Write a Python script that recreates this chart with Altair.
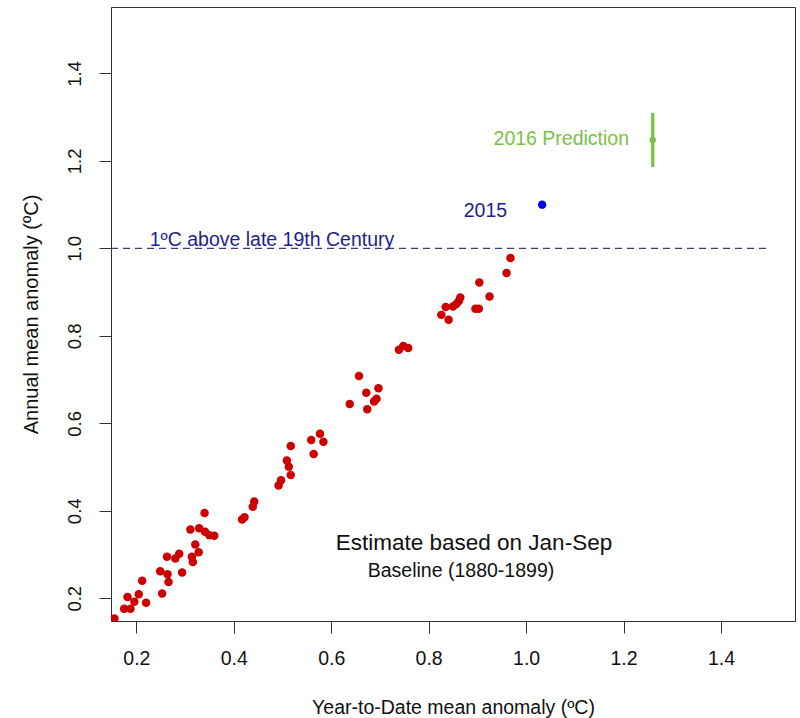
import altair as alt
import pandas as pd

# Year-to-date (Jan-Sep) mean anomaly vs annual mean anomaly, one point per year (degC)
ytd = [0.155, 0.175, 0.188, 0.182, 0.196, 0.205, 0.220, 0.212, 0.253, 0.249,
       0.264, 0.266, 0.263, 0.280, 0.288, 0.294, 0.314, 0.316, 0.321, 0.328,
       0.311, 0.329, 0.340, 0.341, 0.350, 0.360, 0.417, 0.422, 0.439, 0.442,
       0.492, 0.497, 0.509, 0.513, 0.517, 0.517, 0.564, 0.559, 0.577, 0.584,
       0.638, 0.657, 0.672, 0.674, 0.688, 0.693, 0.697, 0.739, 0.748, 0.758,
       0.826, 0.835, 0.841, 0.850, 0.857, 0.862, 0.865, 0.896, 0.903, 0.904,
       0.925, 0.960, 0.968]
annual = [0.154, 0.176, 0.176, 0.203, 0.192, 0.209, 0.190, 0.240, 0.211, 0.262,
          0.255, 0.237, 0.295, 0.291, 0.302, 0.259, 0.295, 0.283, 0.323, 0.305,
          0.357, 0.360, 0.395, 0.352, 0.344, 0.343, 0.380, 0.385, 0.409, 0.421,
          0.458, 0.470, 0.515, 0.501, 0.482, 0.548, 0.530, 0.562, 0.576, 0.558,
          0.644, 0.708, 0.670, 0.632, 0.650, 0.656, 0.680, 0.768, 0.777, 0.772,
          0.848, 0.866, 0.837, 0.867, 0.873, 0.880, 0.888, 0.862, 0.862, 0.922,
          0.890, 0.944, 0.978]

# 2015 observed point
ytd_2015 = [1.033]
annual_2015 = [1.100]

# 2016 prediction with its uncertainty range
ytd_2016 = [1.260]
pred_2016 = [1.248]
pred_lo = [1.186]
pred_hi = [1.310]

threshold = 1.0
threshold_end = 1.5
tick_values = [0.2, 0.4, 0.6, 0.8, 1.0, 1.2, 1.4]

FONT = "Liberation Sans"
RED = "#cd0000"
BLUE = "#0000ee"
NAVY = "#1e1e8e"
GREEN = "#7ac143"

dom = [0.148, 1.552]
xs = alt.Scale(domain=dom, nice=False, zero=False)
ys = alt.Scale(domain=dom, nice=False, zero=False)

pts = pd.DataFrame({"ytd": ytd, "annual": annual})
obs15 = pd.DataFrame({"ytd": ytd_2015, "annual": annual_2015})
pred16 = pd.DataFrame({"ytd": ytd_2016, "annual": pred_2016, "lo": pred_lo, "hi": pred_hi})
thr = pd.DataFrame({"ytd": [dom[0]], "x1": [threshold_end], "annual": [threshold]})

x_axis = alt.Axis(
    values=tick_values, format=".1f", grid=False,
    tickSize=12, tickColor="#333", domainColor="#333",
    labelFont=FONT, labelFontSize=19.5, labelColor="#111",
    labelPadding=16, labelBaseline="top",
    title="Year-to-Date mean anomaly (ºC)",
    titleFont=FONT, titleFontSize=19.5, titleFontWeight="normal", titleColor="#111",
    titleX=342, titleY=86, titleBaseline="middle", titleAlign="center",
)
y_axis = alt.Axis(
    values=tick_values, format=".1f", grid=False,
    tickSize=12, tickColor="#333", domainColor="#333",
    labelFont=FONT, labelFontSize=18.5, labelColor="#111",
    labelAngle=270, labelAlign="center", labelBaseline="alphabetic",
    labelPadding=19,
    title="Annual mean anomaly (ºC)",
    titleFont=FONT, titleFontSize=20, titleFontWeight="normal", titleColor="#111",
    titleAngle=270, titleX=-80, titleY=307, titleBaseline="middle", titleAlign="center",
)


def X(field):
    return alt.X(field, type="quantitative", scale=xs, axis=x_axis)


def Y(field):
    return alt.Y(field, type="quantitative", scale=ys, axis=y_axis)


points = alt.Chart(pts).mark_circle(size=72, color=RED, opacity=1, clip=True).encode(
    x=X("ytd"), y=Y("annual"),
)

threshold_line = alt.Chart(thr).mark_rule(
    color="#3b3b80", strokeWidth=1.4, strokeDash=[7, 5], clip=True
).encode(x=X("ytd"), x2="x1:Q", y=Y("annual"))

p2015 = alt.Chart(obs15).mark_circle(size=70, color=BLUE, opacity=1).encode(
    x=X("ytd"), y=Y("annual"),
)

bar2016 = alt.Chart(pred16).mark_rule(color=GREEN, strokeWidth=3.2).encode(
    x=X("ytd"), y=Y("lo"), y2="hi:Q",
)
p2016 = alt.Chart(pred16).mark_circle(size=40, color=GREEN, opacity=1).encode(
    x=X("ytd"), y=Y("annual"),
)


def label(text, x, y, size, color):
    df = pd.DataFrame({"t": [text], "ytd": [x], "annual": [y]})
    return alt.Chart(df).mark_text(
        font=FONT, fontSize=size, color=color, align="center", baseline="middle"
    ).encode(x=X("ytd"), y=Y("annual"), text="t:N")


labels = [
    label("1ºC above late 19th Century", 0.4785, 1.0198, 19.5, NAVY),
    label("2015", 0.9166, 1.0846, 19.5, NAVY),
    label("2016 Prediction", 1.0723, 1.2506, 19.5, GREEN),
    label("Estimate based on Jan-Sep", 0.893, 0.3264, 22.5, "#111"),
    label("Baseline (1880-1899)", 0.8664, 0.2618, 19.5, "#111"),
]

chart = alt.layer(
    points, threshold_line, p2015, bar2016, p2016, *labels
).properties(
    width=684, height=614,
    autosize=alt.AutoSizeParams(type="none"),
    padding={"left": 111, "top": 7, "right": 5, "bottom": 97},
    background="white",
).configure_view(stroke="#333", strokeWidth=1)

chart.save("out.html", embed_options={"renderer": "svg", "actions": False})
